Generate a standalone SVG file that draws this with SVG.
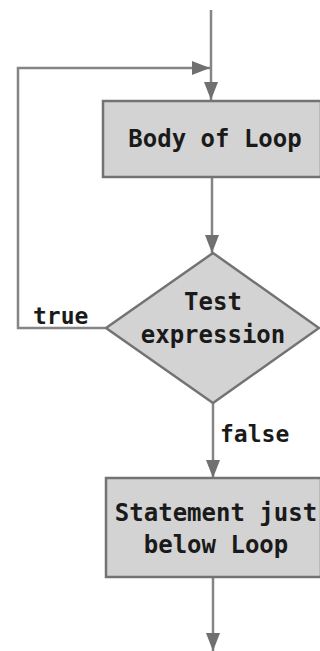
<svg xmlns="http://www.w3.org/2000/svg" width="320" height="651" viewBox="0 0 320 651">
<style>
.node{fill:#d3d3d3;stroke:#737373;stroke-width:2.5}
.edge{fill:none;stroke:#858585;stroke-width:2.5}
.lbl{font-family:"DejaVu Sans Mono","Liberation Mono",monospace;font-weight:bold;font-size:24px;fill:#1a1a1a;text-anchor:middle}
.elbl{font-family:"DejaVu Sans Mono","Liberation Mono",monospace;font-weight:bold;font-size:23px;fill:#1a1a1a}
</style>
<defs>
<marker id="arr" markerUnits="userSpaceOnUse" markerWidth="20" markerHeight="16" refX="18" refY="7" orient="auto">
<path d="M0,0 L18,7 L0,14 Z" fill="#707070"/>
</marker>
</defs>
<g id="connectors">
<path class="edge" d="M211,10 V100" marker-end="url(#arr)"/>
<path class="edge" d="M105,328 H18 V68 H210" marker-end="url(#arr)"/>
<path class="edge" d="M212,177 V253" marker-end="url(#arr)"/>
<path class="edge" d="M213,403 V478" marker-end="url(#arr)"/>
<path class="edge" d="M213,577 V651" marker-end="url(#arr)"/>
<text class="elbl" x="33" y="324">true</text>
<text class="elbl" x="220" y="442">false</text>
</g>
<g id="body">
<rect class="node" x="103" y="101" width="218" height="76"/>
<text class="lbl" x="215" y="147">Body of Loop</text>
</g>
<g id="test">
<polygon class="node" points="213,253 319,328 213,403 106,328"/>
<text class="lbl" x="213" y="310">Test</text>
<text class="lbl" x="213" y="343">expression</text>
</g>
<g id="after">
<rect class="node" x="106" y="478" width="215" height="99"/>
<text class="lbl" x="216" y="521">Statement just</text>
<text class="lbl" x="216" y="553">below Loop</text>
</g>
</svg>
